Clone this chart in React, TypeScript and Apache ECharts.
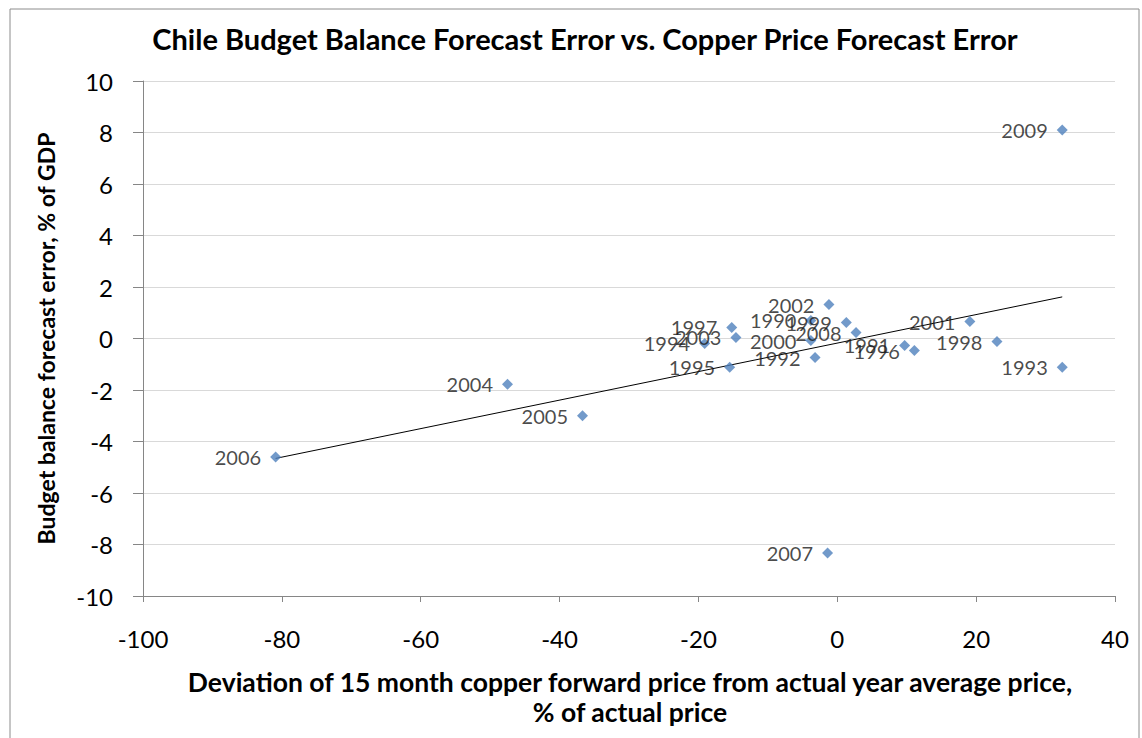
import React, { useEffect, useRef } from "react";
import * as echarts from "echarts";

const years = [1990, 1991, 1992, 1993, 1994, 1995, 1996, 1997, 1998, 1999, 2000, 2001, 2002, 2003, 2004, 2005, 2006, 2007, 2008, 2009];
const copperDeviation = [-3.8, 9.7, -3.2, 32.4, -19.1, -15.5, 11.1, -15.2, 23.0, 1.3, -3.8, 19.1, -1.2, -14.6, -47.5, -36.7, -80.9, -1.4, 2.7, 32.4];
const budgetError = [0.7, -0.27, -0.74, -1.12, -0.19, -1.12, -0.47, 0.43, -0.12, 0.62, -0.08, 0.66, 1.32, 0.04, -1.78, -3.0, -4.6, -8.33, 0.23, 8.1];

const xTicks = { min: -100, max: 40, interval: 20 };
const yTicks = { min: -10, max: 10, interval: 2 };

const FONT = "Lato";

function trend() {
  const n = copperDeviation.length;
  const mx = copperDeviation.reduce((a, b) => a + b, 0) / n;
  const my = budgetError.reduce((a, b) => a + b, 0) / n;
  let sxy = 0, sxx = 0;
  for (let i = 0; i < n; i++) {
    sxy += (copperDeviation[i] - mx) * (budgetError[i] - my);
    sxx += (copperDeviation[i] - mx) ** 2;
  }
  const b = sxy / sxx;
  const a = my - b * mx;
  const x0 = Math.min(...copperDeviation);
  const x1 = Math.max(...copperDeviation);
  return [[x0, a + b * x0], [x1, a + b * x1]];
}

export default function App() {
  const ref = useRef<HTMLDivElement>(null);
  useEffect(() => {
    if (!ref.current) return;
    const chart = echarts.init(ref.current, undefined, { renderer: "svg" });
    const points = years.map((y, i) => [copperDeviation[i], budgetError[i], y]);
    chart.setOption({
      animation: false,
      backgroundColor: "#ffffff",
      textStyle: { fontFamily: FONT },
      title: {
        text: "Chile Budget Balance Forecast Error vs. Copper Price Forecast Error",
        left: 580,
        textAlign: "center",
        top: 19,
        textStyle: { fontFamily: FONT, fontWeight: "bold", fontSize: 29, color: "#000" },
      },
      graphic: [
        {
          type: "rect",
          shape: { x: 10, y: 9, width: 1129, height: 740 },
          style: { fill: "none", stroke: "#8c8c8c", lineWidth: 1 },
          silent: true,
          z: -1,
        },
        {
          type: "text",
          x: 630,
          y: 697,
          style: {
            text: "Deviation of 15 month copper forward price from actual year average price,\n% of actual price",
            fontFamily: FONT,
            fontWeight: "bold",
            fontSize: 26.5,
            lineHeight: 30,
            fill: "#000",
            align: "center",
            verticalAlign: "middle",
          },
        },
      ],
      grid: { left: 143, right: 27, top: 81, bottom: 142, containLabel: false },
      xAxis: {
        type: "value",
        min: xTicks.min,
        max: xTicks.max,
        interval: xTicks.interval,
        axisLine: { onZero: false, lineStyle: { color: "#868686" } },
        axisTick: { show: true, length: 6, lineStyle: { color: "#868686" } },
        splitLine: { show: false },
        axisLabel: { fontFamily: FONT, fontSize: 24, color: "#000", margin: 30 },
      },
      yAxis: {
        type: "value",
        min: yTicks.min,
        max: yTicks.max,
        interval: yTicks.interval,
        name: "Budget balance forecast error, % of GDP",
        nameLocation: "middle",
        nameGap: 86,
        nameTextStyle: { fontFamily: FONT, fontWeight: "bold", fontSize: 23, color: "#000" },
        axisLine: { show: true, onZero: false, lineStyle: { color: "#868686" } },
        axisTick: { show: true, length: 10, lineStyle: { color: "#868686" } },
        splitLine: { show: true, lineStyle: { color: "#d9d9d9" } },
        axisLabel: { fontFamily: FONT, fontSize: 24, color: "#000", margin: 30 },
      },
      series: [
        {
          type: "line",
          data: trend(),
          symbol: "none",
          lineStyle: { color: "#000", width: 1 },
          z: 1,
        },
        {
          type: "scatter",
          data: points,
          symbol: "diamond",
          symbolSize: 11,
          itemStyle: { color: "#4F81BD" },
          label: {
            show: true,
            position: "left",
            distance: 9,
            formatter: (p: any) => String(p.data[2]),
            fontFamily: FONT,
            fontSize: 20,
            color: "#1a1a1a",
          },
          z: 2,
        },
      ],
    });
    return () => chart.dispose();
  }, []);
  return <div ref={ref} style={{ position: "fixed", left: 0, top: 0, width: 1142, height: 738 }} />;
}
